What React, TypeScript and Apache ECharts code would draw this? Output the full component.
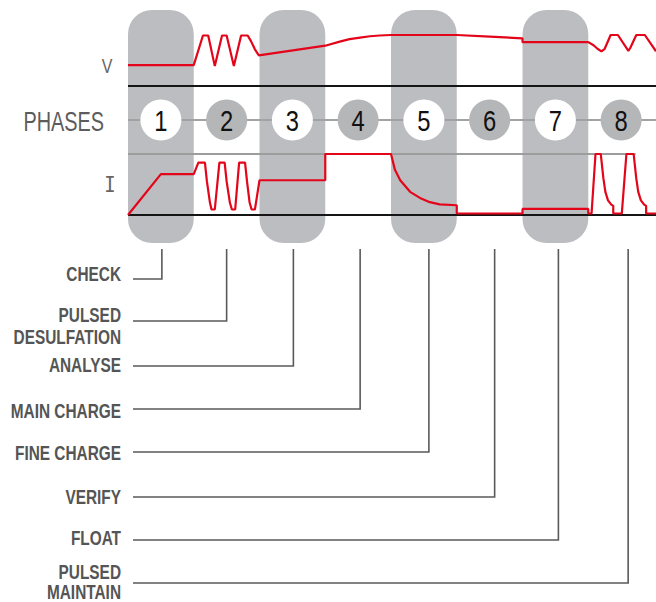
import React, { useEffect, useRef } from "react";
import * as echarts from "echarts";

// ---------- data ----------
const phaseNumbers = [1, 2, 3, 4, 5, 6, 7, 8];
const phaseNames = [
  "CHECK",
  "PULSED\nDESULFATION",
  "ANALYSE",
  "MAIN CHARGE",
  "FINE CHARGE",
  "VERIFY",
  "FLOAT",
  "PULSED\nMAINTAIN",
];
const shadedPhases = [1, 3, 5, 7];
const rowTitles = ["V", "PHASES", "I"];

// [time in phase units, relative voltage 0..100]
const voltageCurve: [number, number][] = [
  [0, 41], [1.0, 41], [1.14, 99], [1.22, 99], [1.32, 39], [1.43, 99], [1.5, 99],
  [1.61, 39], [1.72, 99], [1.82, 99], [1.87, 88], [1.93, 72], [1.99, 60],
  [3.0, 79], [3.22, 87], [3.37, 92], [3.53, 95], [3.68, 97.5], [3.83, 99], [4.0, 100],
  [5.0, 100], [5.5, 97], [6.0, 93.5], [6.0, 86], [7.0, 86], [7.08, 80], [7.14, 73],
  [7.2, 68], [7.25, 73], [7.34, 100], [7.45, 100], [7.61, 69], [7.64, 75],
  [7.73, 100], [7.86, 100], [8.03, 68],
];

// [time in phase units, relative current 0..100]
const currentCurve: [number, number][] = [
  [0, 0], [0.5, 67], [1.0, 67], [1.07, 86], [1.17, 86], [1.2, 55], [1.247, 20], [1.27, 9],
  [1.32, 9], [1.39, 86], [1.47, 86], [1.5, 55], [1.55, 20], [1.58, 9], [1.63, 9],
  [1.69, 86], [1.78, 86], [1.81, 55], [1.85, 20], [1.88, 9], [1.93, 9], [2.0, 57],
  [3.0, 57], [3.0, 100], [4.0, 100], [4.06, 74], [4.14, 57], [4.29, 38], [4.44, 28],
  [4.59, 21], [4.74, 17.5], [5.0, 16], [5.0, 2.5], [6.0, 2.5], [6.0, 10], [7.0, 10],
  [7.0, 2.5], [7.05, 2.5], [7.11, 100], [7.19, 100], [7.23, 60], [7.26, 38], [7.3, 24],
  [7.35, 17], [7.38, 15], [7.38, 2.5], [7.51, 2.5], [7.58, 100], [7.69, 100], [7.73, 60],
  [7.76, 38], [7.8, 24], [7.85, 17], [7.88, 15], [7.88, 2.5], [8.03, 2.5],
];
const currentRefEnd = 7.72;

// ---------- layout / style ----------
const X_MAX = 8.03;
const SANS = "'Liberation Sans', Arial, sans-serif";
const RED = "#e3061a";
const PILL = "#bcbdc0";
const LABEL_TEXT_Y = [274, 326, 365, 411, 453, 497, 538, 582];
const LABEL_LINE_Y = [279, 321, 366, 409, 452, 497, 540, 583];
const LABEL_LINE_HEIGHT = [22, 22, 22, 22, 22, 22, 22, 20];
const CONNECTOR_NUDGE = [1, 0, 1, 2, 5, 5, 3, 7];

export default function App() {
  const ref = useRef<HTMLDivElement>(null);

  useEffect(() => {
    if (!ref.current) return;
    const chart = echarts.init(ref.current, undefined, { renderer: "svg" });

    const xAxisBase = { type: "value", min: 0, max: X_MAX, show: false };

    const option: any = {
      animation: false,
      backgroundColor: "#ffffff",
      grid: [
        { left: 128, right: 0, top: 35, height: 51 },
        { left: 128, right: 0, top: 100, height: 40 },
        { left: 128, right: 0, top: 154, height: 61 },
      ],
      xAxis: [
        { ...xAxisBase, gridIndex: 0 },
        { ...xAxisBase, gridIndex: 1 },
        { ...xAxisBase, gridIndex: 2 },
      ],
      yAxis: [
        { type: "value", gridIndex: 0, min: 0, max: 100, show: false },
        { type: "value", gridIndex: 1, min: -1, max: 1, show: false },
        { type: "value", gridIndex: 2, min: 0, max: 100, show: false },
      ],
      graphic: [
        {
          type: "text",
          x: 107,
          y: 66,
          scaleX: 0.8,
          style: { text: rowTitles[0], fill: "#666", font: `20px ${SANS}`, align: "center", verticalAlign: "middle" },
        },
        {
          type: "text",
          x: 104,
          y: 121,
          scaleX: 0.71,
          style: { text: rowTitles[1], fill: "#5c5c5c", font: `28px ${SANS}`, align: "right", verticalAlign: "middle" },
        },
        {
          type: "text",
          x: 110,
          y: 185,
          scaleX: 0.9,
          style: { text: rowTitles[2], fill: "#666", font: `21px 'DejaVu Sans Mono', monospace`, align: "center", verticalAlign: "middle" },
        },
      ],
      series: [
        {
          type: "custom",
          name: "pills",
          xAxisIndex: 0,
          yAxisIndex: 0,
          z: 1,
          clip: false,
          silent: true,
          data: shadedPhases.map((p) => [p]),
          renderItem: (params: any, api: any) => {
            const p = api.value(0);
            const x0 = api.coord([p - 1, 0])[0];
            const x1 = api.coord([p, 0])[0];
            return {
              type: "rect",
              shape: { x: x0, y: 10, width: x1 - x0, height: 233, r: 24 },
              style: { fill: PILL },
            };
          },
        },
        {
          type: "line",
          name: "v-base",
          xAxisIndex: 0,
          yAxisIndex: 0,
          z: 3,
          clip: false,
          symbol: "none",
          data: [[0, 0], [X_MAX, 0]],
          lineStyle: { color: "#151515", width: 2 },
        },
        {
          type: "line",
          name: "phase-line",
          xAxisIndex: 1,
          yAxisIndex: 1,
          z: 3,
          clip: false,
          symbol: "none",
          data: [[0, 0], [X_MAX, 0]],
          lineStyle: { color: "#a2a2a2", width: 2 },
        },
        {
          type: "line",
          name: "i-ref",
          xAxisIndex: 2,
          yAxisIndex: 2,
          z: 3,
          clip: false,
          symbol: "none",
          data: [[0, 100], [currentRefEnd, 100]],
          lineStyle: { color: "#9d9d9d", width: 2 },
        },
        {
          type: "line",
          name: "i-base",
          xAxisIndex: 2,
          yAxisIndex: 2,
          z: 3,
          clip: false,
          symbol: "none",
          data: [[0, 0], [X_MAX, 0]],
          lineStyle: { color: "#151515", width: 2 },
        },
        {
          type: "line",
          name: "voltage",
          xAxisIndex: 0,
          yAxisIndex: 0,
          z: 5,
          clip: false,
          symbol: "none",
          data: voltageCurve,
          lineStyle: { color: RED, width: 2.2 },
        },
        {
          type: "line",
          name: "current",
          xAxisIndex: 2,
          yAxisIndex: 2,
          z: 5,
          clip: false,
          symbol: "none",
          data: currentCurve,
          lineStyle: { color: RED, width: 2.2 },
        },
        {
          type: "custom",
          name: "phases",
          xAxisIndex: 1,
          yAxisIndex: 1,
          z: 6,
          clip: false,
          silent: true,
          data: phaseNumbers.map((n) => [n]),
          renderItem: (params: any, api: any) => {
            const n = api.value(0);
            const [cx, cy] = api.coord([n - 0.5, 0]);
            return {
              type: "group",
              children: [
                {
                  type: "circle",
                  shape: { cx, cy, r: 20.5 },
                  style: { fill: shadedPhases.includes(n) ? "#ffffff" : "#b5b6b8" },
                },
                {
                  type: "text",
                  x: cx,
                  y: cy + 1,
                  scaleX: 0.82,
                  style: {
                    text: String(n),
                    x: 0,
                    y: 0,
                    align: "center",
                    verticalAlign: "middle",
                    fill: "#111",
                    fontSize: 29,
                    fontFamily: SANS,
                  },
                },
              ],
            };
          },
        },
        {
          type: "custom",
          name: "connectors",
          xAxisIndex: 0,
          yAxisIndex: 0,
          z: 2,
          clip: false,
          silent: true,
          data: phaseNumbers.map((n) => [n]),
          renderItem: (params: any, api: any) => {
            const n = api.value(0);
            const i = n - 1;
            const x = api.coord([n - 0.5, 0])[0] + CONNECTOR_NUDGE[i];
            const ly = LABEL_LINE_Y[i];
            return {
              type: "group",
              children: [
                {
                  type: "polyline",
                  shape: { points: [[133, ly], [x, ly], [x, 249]] },
                  style: { stroke: "#5a5a5a", lineWidth: 1.6, fill: null },
                },
                {
                  type: "text",
                  x: 121,
                  y: LABEL_TEXT_Y[i],
                  scaleX: 0.77,
                  style: {
                    text: phaseNames[i],
                    x: 0,
                    y: 0,
                    align: "right",
                    verticalAlign: "middle",
                    fill: "#555",
                    fontSize: 20,
                    fontWeight: "bold",
                    fontFamily: SANS,
                    lineHeight: LABEL_LINE_HEIGHT[i],
                  },
                },
              ],
            };
          },
        },
      ],
    };

    chart.setOption(option);
    return () => chart.dispose();
  }, []);

  return (
    <div
      ref={ref}
      style={{ position: "fixed", left: 0, top: 0, width: 656, height: 602, background: "#fff" }}
    />
  );
}
